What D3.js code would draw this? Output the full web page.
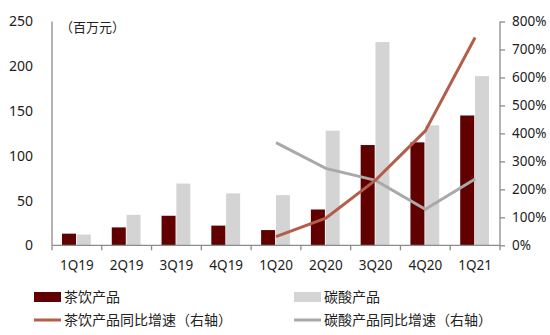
<!DOCTYPE html>
<html><head><meta charset="utf-8">
<script src="https://cdn.jsdelivr.net/npm/d3@7"></script>
<style>body{margin:0;background:#fff;}svg{display:block;font-family:"Noto Sans CJK SC","Noto Sans",sans-serif;}</style>
</head><body><svg id="c" width="550" height="335"></svg>
<script>
const categories = ["1Q19","2Q19","3Q19","4Q19","1Q20","2Q20","3Q20","4Q20","1Q21"];
const teaValues = [13, 20, 33, 22, 17, 40, 112, 115, 145];
const sodaValues = [12, 34, 69, 58, 56, 128, 227, 134, 189];
const growthCats = ["1Q20","2Q20","3Q20","4Q20","1Q21"];
const teaGrowth = [31, 97, 233, 409, 743];
const sodaGrowth = [367, 275, 232, 129, 237];
const leftTicks = [0, 50, 100, 150, 200, 250];
const rightTicks = [0, 100, 200, 300, 400, 500, 600, 700, 800];

const svg = d3.select("#c");
const L = 52, R = 500, T = 21.5, B = 245.3;
const x = d3.scaleBand().domain(categories).range([L, R]);
const yL = d3.scaleLinear().domain([0, 250]).range([B, T]);
const yR = d3.scaleLinear().domain([0, 800]).range([B, T]);
const axisColor = "#8c8c8c", textColor = "#222";
const bw = 14, off = 10;

// bars
svg.append("g").selectAll("rect").data(categories).join("rect")
  .attr("x", d => x(d) + off).attr("width", bw)
  .attr("y", (d,i) => yL(teaValues[i])).attr("height", (d,i) => B - yL(teaValues[i]))
  .attr("fill", "#600000");
svg.append("g").selectAll("rect").data(categories).join("rect")
  .attr("x", d => x(d) + off + bw + 0.8).attr("width", bw)
  .attr("y", (d,i) => yL(sodaValues[i])).attr("height", (d,i) => B - yL(sodaValues[i]))
  .attr("fill", "#d4d4d4");

// lines
const line = d3.line().x(d => x(d[0]) + x.bandwidth()/2).y(d => yR(d[1]));
svg.append("path").datum(growthCats.map((c,i)=>[c, sodaGrowth[i]]))
  .attr("d", line).attr("fill","none").attr("stroke","#a9a9a9").attr("stroke-width",3);
svg.append("path").datum(growthCats.map((c,i)=>[c, teaGrowth[i]]))
  .attr("d", line).attr("fill","none").attr("stroke","#b35e48").attr("stroke-width",3);

// left axis
const gl = svg.append("g").attr("transform", `translate(${L},0)`)
  .call(d3.axisLeft(yL).tickValues(leftTicks).tickSize(0).tickPadding(19));
gl.select(".domain").attr("stroke", axisColor).attr("stroke-width",1.3).attr("d", `M0,${B}V${T}`);
gl.selectAll("text").attr("font-size", 14).attr("fill", textColor).attr("font-family","Noto Sans, sans-serif");

// right axis
const gr = svg.append("g").attr("transform", `translate(${R},0)`)
  .call(d3.axisRight(yR).tickValues(rightTicks).tickFormat(d => d + "%").tickSize(5).tickPadding(7));
gr.select(".domain").attr("stroke", axisColor).attr("stroke-width",1.3).attr("d", `M0,${B}V${T}`);
gr.selectAll("line").attr("stroke", axisColor).attr("stroke-width",1.3);
gr.selectAll("text").attr("font-size", 13.5).attr("fill", textColor).attr("font-family","Noto Sans, sans-serif");

// x axis
const gx = svg.append("g").attr("transform", `translate(0,${B})`)
  .call(d3.axisBottom(x).tickSize(0).tickPadding(15));
gx.select(".domain").attr("stroke", axisColor).attr("stroke-width",1.3).attr("d", `M${L},0H${R}`);
gx.selectAll("text").attr("font-size", 13.5).attr("fill", textColor).attr("font-family","Noto Sans, sans-serif");
gx.append("g").selectAll("line").data(categories.concat(["end"])).join("line")
  .attr("x1", (d,i) => i < categories.length ? x(d) : R)
  .attr("x2", (d,i) => i < categories.length ? x(d) : R)
  .attr("y1", 0).attr("y2", 5).attr("stroke", axisColor).attr("stroke-width", 1.3);

// unit label
svg.append("text").attr("x", 60).attr("y", 32).text("（百万元）")
  .attr("font-size", 13).attr("fill", textColor);

// legend
const leg = [
  {t:"茶饮产品", type:"rect", c:"#600000", x:34, y:297},
  {t:"碳酸产品", type:"rect", c:"#d4d4d4", x:294, y:297},
  {t:"茶饮产品同比增速（右轴）", type:"line", c:"#b35e48", x:34, y:320},
  {t:"碳酸产品同比增速（右轴）", type:"line", c:"#a9a9a9", x:294, y:320}
];
const lg = svg.append("g");
leg.forEach(d => {
  if (d.type === "rect") lg.append("rect").attr("x", d.x).attr("y", d.y-5).attr("width", 27).attr("height", 10).attr("fill", d.c);
  else lg.append("line").attr("x1", d.x).attr("x2", d.x+27).attr("y1", d.y).attr("y2", d.y).attr("stroke", d.c).attr("stroke-width", 3);
  lg.append("text").attr("x", d.x+30).attr("y", d.y).attr("dy","0.36em").text(d.t)
    .attr("font-size", 14).attr("fill", textColor);
});
</script></body></html>
